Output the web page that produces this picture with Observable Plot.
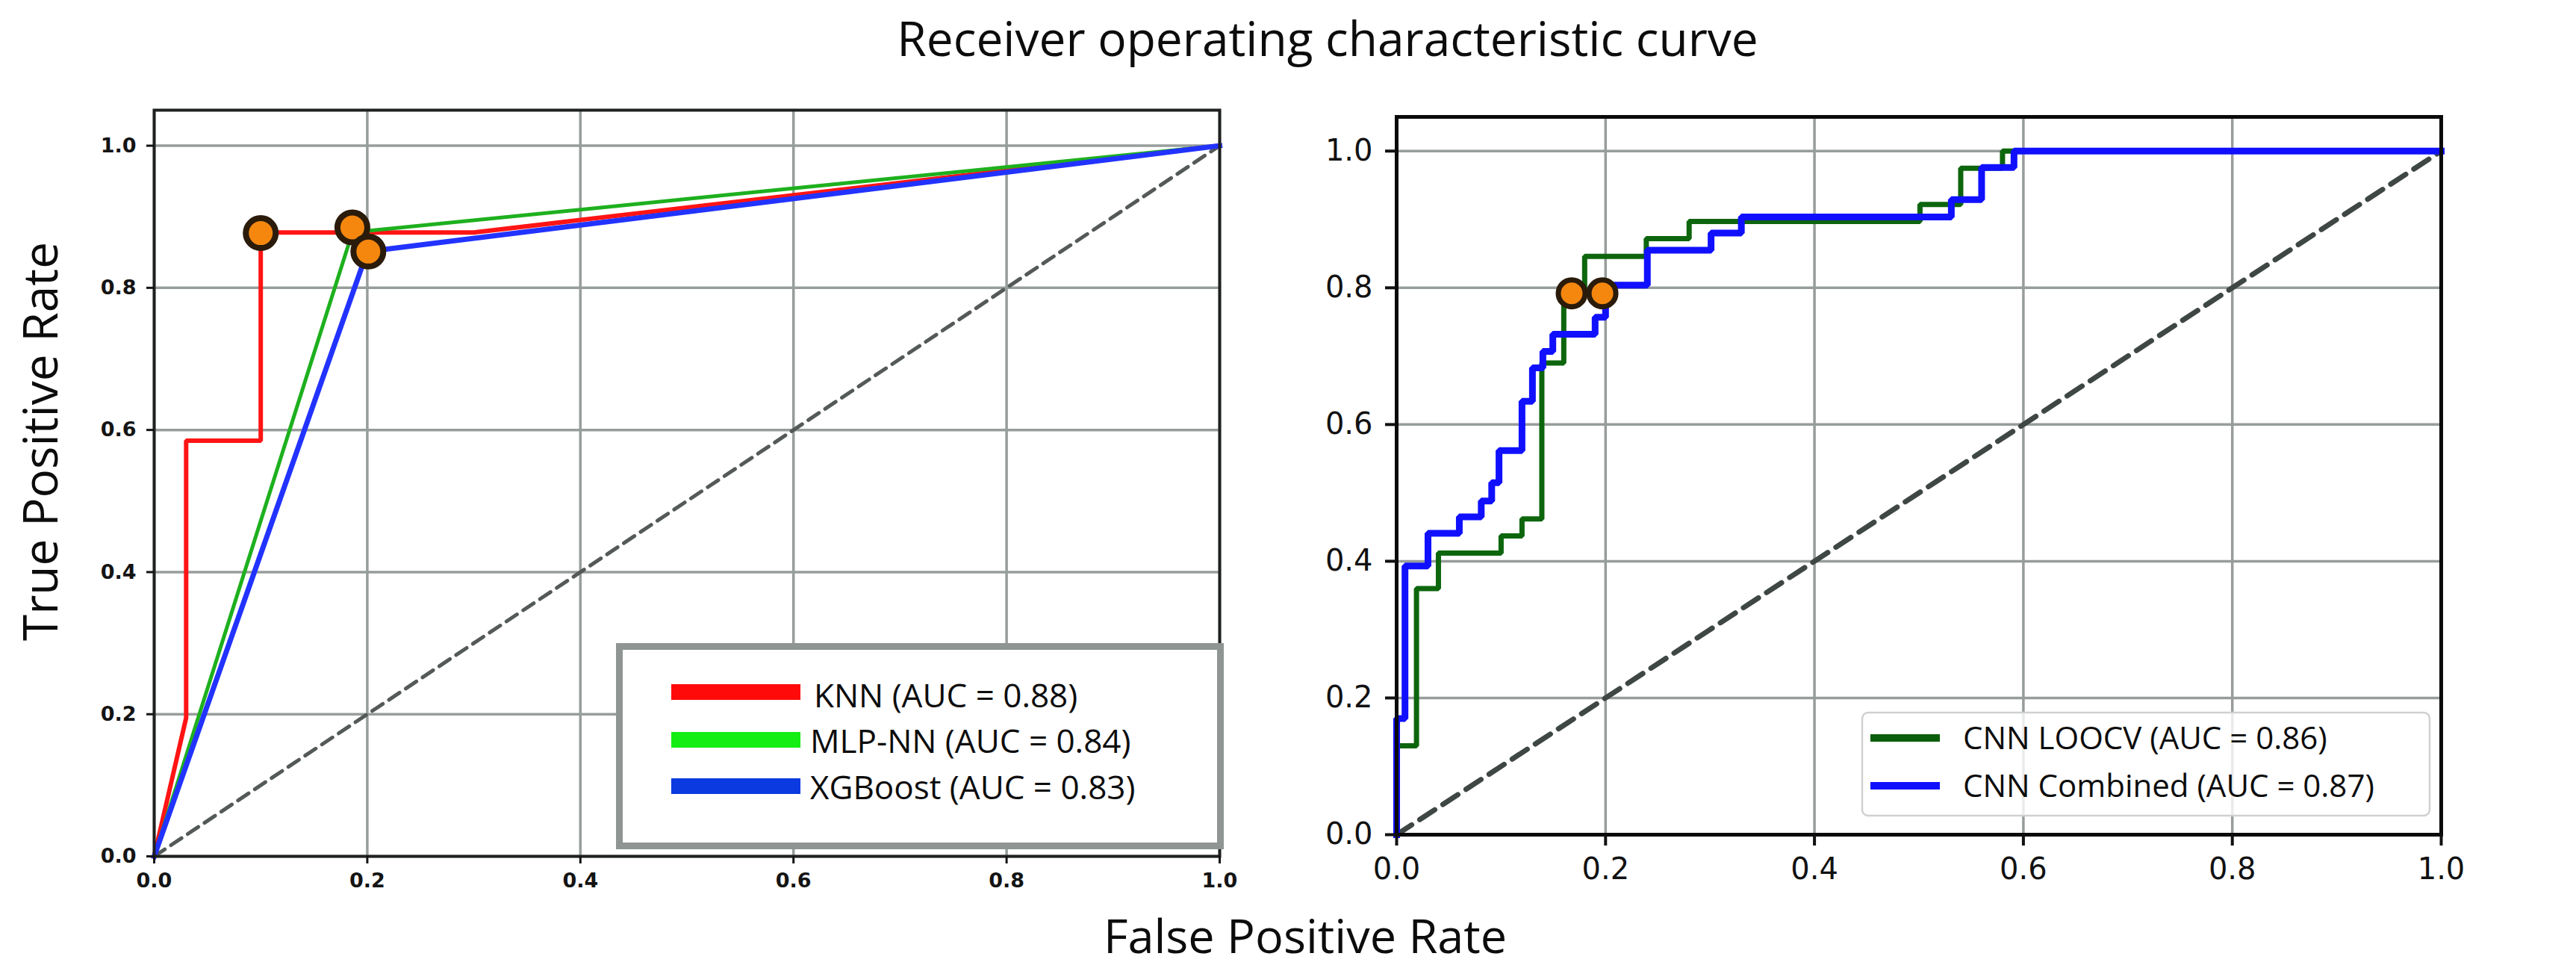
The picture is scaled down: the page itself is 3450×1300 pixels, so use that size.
<!DOCTYPE html>
<html>
<head>
<meta charset="utf-8">
<script src="https://cdn.jsdelivr.net/npm/d3@7"></script>
<script src="https://cdn.jsdelivr.net/npm/@observablehq/plot@0.6"></script>
<style>
  html, body { margin: 0; padding: 0; background: #ffffff; }
  #page { position: relative; width: 3450px; height: 1300px; overflow: hidden; background: #ffffff; }
  #left, #right, #overlay { position: absolute; top: 0; }
  #left { left: 0; }
  #right { left: 1720px; }
  #overlay { left: 0; pointer-events: none; }
</style>
</head>
<body>
<div id="page">
  <div id="left"></div>
  <div id="right"></div>
  <svg id="overlay" width="3450" height="1300" xmlns="http://www.w3.org/2000/svg"></svg>
</div>
<script>
// ---- Left panel: classical classifiers ----
const knnFpr = [0, 0.03, 0.03, 0.1, 0.1, 0.3, 1];
const knnTpr = [0, 0.195, 0.585, 0.585, 0.878, 0.878, 1];
const mlpFpr = [0, 0.186, 1];
const mlpTpr = [0, 0.878, 1];
const xgbFpr = [0, 0.2, 1];
const xgbTpr = [0, 0.851, 1];
// operating points chosen on each curve
const leftPointFpr = [0.1, 0.186, 0.201];
const leftPointTpr = [0.877, 0.885, 0.851];

// ---- Right panel: CNN models ----
const loocvFpr = [0, 0, 0.019, 0.019, 0.040, 0.040, 0.100, 0.100, 0.120, 0.120, 0.139, 0.139, 0.160, 0.160,
  0.180, 0.180, 0.239, 0.239, 0.280, 0.280, 0.501, 0.501, 0.540, 0.540, 0.580, 0.580, 1];
const loocvTpr = [0, 0.13, 0.13, 0.36, 0.36, 0.412, 0.412, 0.437, 0.437, 0.462, 0.462, 0.690, 0.690, 0.795,
  0.795, 0.846, 0.846, 0.872, 0.872, 0.897, 0.897, 0.922, 0.922, 0.975, 0.975, 1, 1];
const combFpr = [0, 0, 0.008, 0.008, 0.030, 0.030, 0.060, 0.060, 0.081, 0.081, 0.091, 0.091, 0.098, 0.098,
  0.120, 0.120, 0.130, 0.130, 0.140, 0.140, 0.1495, 0.1495, 0.190, 0.190, 0.200, 0.200, 0.240, 0.240,
  0.301, 0.301, 0.330, 0.330, 0.531, 0.531, 0.560, 0.560, 0.591, 0.591, 1];
const combTpr = [0, 0.17, 0.17, 0.393, 0.393, 0.441, 0.441, 0.465, 0.465, 0.488, 0.488, 0.515, 0.515, 0.562,
  0.562, 0.634, 0.634, 0.683, 0.683, 0.707, 0.707, 0.732, 0.732, 0.757, 0.757, 0.804, 0.804, 0.855,
  0.855, 0.880, 0.880, 0.9035, 0.9035, 0.929, 0.929, 0.976, 0.976, 1, 1];
const rightPointFpr = [0.1676, 0.197];
const rightPointTpr = [0.792, 0.792];

// chance line and shared ticks
const chanceFpr = [0, 1];
const chanceTpr = [0, 1];
const tickValues = [0, 0.2, 0.4, 0.6, 0.8, 1.0];

// legend entries
const leftLegend = ["KNN (AUC = 0.88)", "MLP-NN (AUC = 0.84)", "XGBoost (AUC = 0.83)"];
const rightLegend = ["CNN LOOCV (AUC = 0.86)", "CNN Combined (AUC = 0.87)"];

const titleText = "Receiver operating characteristic curve";
const xLabelText = "False Positive Rate";
const yLabelText = "True Positive Rate";

const pts = (xs, ys) => d3.zip(xs, ys);
const fmt = d3.format(".1f");

function rocLine(xs, ys, stroke, strokeWidth) {
  return Plot.line(pts(xs, ys), {
    x: d => d[0], y: d => d[1], stroke, strokeWidth,
    strokeLinejoin: "miter", strokeLinecap: "square"
  });
}

// Left panel
const leftChart = Plot.plot({
  width: 1700, height: 1250,
  marginLeft: 206, marginRight: 67, marginTop: 147, marginBottom: 104,
  x: {domain: [0, 1]},
  y: {domain: [0, 1.05]},
  style: {background: "transparent", fontFamily: "'DejaVu Sans', sans-serif", fontSize: "27px", fontWeight: "bold", color: "#141414"},
  marks: [
    Plot.gridX(tickValues, {stroke: "#979d9b", strokeWidth: 3.5, strokeOpacity: 1}),
    Plot.gridY(tickValues, {stroke: "#979d9b", strokeWidth: 3.5, strokeOpacity: 1}),
    Plot.line(pts(chanceFpr, chanceTpr), {x: d => d[0], y: d => d[1], stroke: "#545a58", strokeWidth: 5, strokeDasharray: "17,10"}),
    rocLine(knnFpr, knnTpr, "#ff1414", 6),
    rocLine(mlpFpr, mlpTpr, "#1eb01e", 5),
    rocLine(xgbFpr, xgbTpr, "#2233ff", 7),
    Plot.dot(pts(leftPointFpr, leftPointTpr), {x: d => d[0], y: d => d[1], r: 20, fill: "#f5870f", stroke: "#2a1b0a", strokeWidth: 8}),
    Plot.frame({stroke: "#1e2120", strokeWidth: 4}),
    Plot.axisX(tickValues, {tickSize: 10, tickPadding: 12, tickFormat: fmt, strokeWidth: 3, label: null}),
    Plot.axisY(tickValues, {tickSize: 10, tickPadding: 14, tickFormat: fmt, strokeWidth: 3, label: null})
  ]
});
document.getElementById("left").appendChild(leftChart);

// Right panel
const rightChart = Plot.plot({
  width: 1700, height: 1250,
  marginLeft: 150, marginRight: 151, marginTop: 156, marginBottom: 133,
  x: {domain: [0, 1]},
  y: {domain: [0, 1.05]},
  style: {background: "transparent", fontFamily: "'DejaVu Sans', sans-serif", fontSize: "40px", color: "#111111"},
  marks: [
    Plot.gridX(tickValues, {stroke: "#979d9b", strokeWidth: 3.5, strokeOpacity: 1}),
    Plot.gridY(tickValues, {stroke: "#979d9b", strokeWidth: 3.5, strokeOpacity: 1}),
    Plot.line(pts(chanceFpr, chanceTpr), {x: d => d[0], y: d => d[1], stroke: "#3f4745", strokeWidth: 7, strokeDasharray: "24,13"}),
    rocLine(loocvFpr, loocvTpr, "#0d660d", 7),
    rocLine(combFpr, combTpr, "#1010ff", 9),
    Plot.dot(pts(rightPointFpr, rightPointTpr), {x: d => d[0], y: d => d[1], r: 18, fill: "#f5870f", stroke: "#2a1b0a", strokeWidth: 7}),
    Plot.frame({stroke: "#0a0a0a", strokeWidth: 5}),
    Plot.axisX(tickValues, {tickSize: 15, tickPadding: 16, tickFormat: fmt, strokeWidth: 4, label: null}),
    Plot.axisY(tickValues, {tickSize: 15, tickPadding: 17, tickFormat: fmt, strokeWidth: 4, label: null})
  ]
});
document.getElementById("right").appendChild(rightChart);

// Shared titles and legends drawn in an overlay
const svg = d3.select("#overlay");
const bigFont = "'Open Sans', 'Noto Sans', sans-serif";

svg.append("text").attr("x", 1778).attr("y", 75).attr("text-anchor", "middle")
  .attr("font-family", bigFont).attr("font-size", 64).attr("fill", "#0c0c0c").text(titleText);
svg.append("text").attr("x", 1748).attr("y", 1276).attr("text-anchor", "middle")
  .attr("font-family", bigFont).attr("font-size", 63).attr("fill", "#0c0c0c").text(xLabelText);
svg.append("text").attr("transform", "translate(77,591) rotate(-90)").attr("text-anchor", "middle")
  .attr("font-family", bigFont).attr("font-size", 64).attr("fill", "#0c0c0c").text(yLabelText);

// left legend
const leftColors = ["#ff0a0a", "#14ee14", "#0a3ae0"];
svg.append("rect").attr("x", 829.5).attr("y", 865.5).attr("width", 805).attr("height", 267)
  .attr("fill", "#fff").attr("stroke", "#8e9593").attr("stroke-width", 9);
const leftRows = [916, 980, 1042];
const leftBase = [947, 1008, 1070];
const leftTextX = [1090, 1085, 1085];
leftLegend.forEach((label, i) => {
  svg.append("rect").attr("x", 899).attr("y", leftRows[i]).attr("width", 173).attr("height", 21).attr("fill", leftColors[i]);
  svg.append("text").attr("x", leftTextX[i]).attr("y", leftBase[i]).attr("font-family", bigFont)
    .attr("font-size", 44).attr("fill", "#0c0c0c").text(label);
});

// right legend
const rightColors = ["#0b5e0b", "#1010ff"];
svg.append("rect").attr("x", 2494).attr("y", 954).attr("width", 760).attr("height", 138).attr("rx", 8)
  .attr("fill", "#fff").attr("fill-opacity", 0.8).attr("stroke", "#cfd1d0").attr("stroke-width", 2.5);
const rightRows = [983, 1047];
const rightBase = [1003, 1067];
rightLegend.forEach((label, i) => {
  svg.append("rect").attr("x", 2505).attr("y", rightRows[i]).attr("width", 93).attr("height", 10).attr("fill", rightColors[i]);
  svg.append("text").attr("x", 2629).attr("y", rightBase[i]).attr("font-family", bigFont)
    .attr("font-size", 42).attr("fill", "#0c0c0c").text(label);
});
</script>
</body>
</html>
